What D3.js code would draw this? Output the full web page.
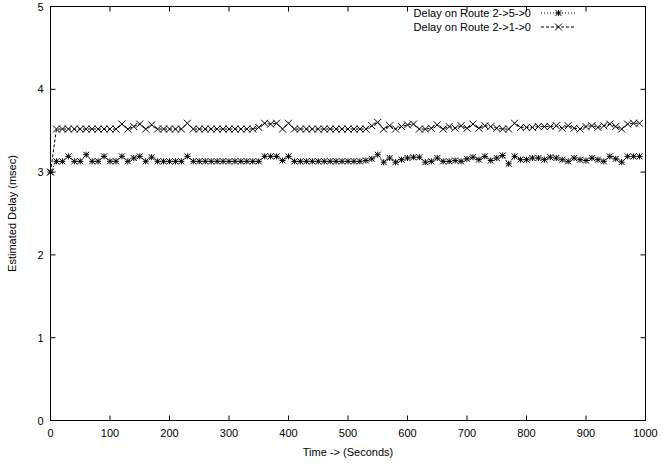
<!DOCTYPE html>
<html><head><meta charset="utf-8">
<script src="https://cdn.jsdelivr.net/npm/d3@7"></script>
<style>body{margin:0;background:#fff}svg{display:block}text{font-family:"Liberation Sans",Arial,sans-serif;font-size:11px;fill:#000}</style>
</head><body><svg id="c" width="663" height="463"></svg>
<script>
const times = d3.range(0, 1000, 10);
const route250 = [3.00,3.13,3.13,3.19,3.13,3.13,3.21,3.13,3.13,3.19,
3.13,3.13,3.19,3.13,3.17,3.19,3.13,3.18,3.13,3.13,
3.13,3.13,3.13,3.19,3.13,3.13,3.13,3.13,3.13,3.13,
3.13,3.13,3.13,3.13,3.13,3.13,3.19,3.19,3.19,3.14,
3.19,3.13,3.13,3.13,3.13,3.13,3.13,3.13,3.13,3.13,
3.13,3.13,3.13,3.14,3.16,3.21,3.12,3.17,3.12,3.15,
3.17,3.18,3.18,3.12,3.13,3.17,3.13,3.13,3.14,3.13,
3.16,3.18,3.15,3.19,3.14,3.17,3.20,3.10,3.19,3.15,
3.15,3.17,3.17,3.15,3.18,3.17,3.15,3.13,3.17,3.15,
3.14,3.17,3.15,3.13,3.19,3.16,3.12,3.19,3.19,3.19];
const route210 = [3.00,3.52,3.52,3.52,3.52,3.52,3.52,3.52,3.52,3.52,
3.52,3.52,3.58,3.52,3.55,3.58,3.52,3.57,3.52,3.52,
3.52,3.52,3.52,3.59,3.52,3.52,3.52,3.52,3.52,3.52,
3.52,3.52,3.52,3.52,3.52,3.54,3.59,3.58,3.59,3.52,
3.59,3.52,3.52,3.52,3.52,3.52,3.52,3.52,3.52,3.52,
3.52,3.52,3.52,3.52,3.56,3.60,3.52,3.56,3.52,3.55,
3.57,3.58,3.52,3.52,3.53,3.57,3.52,3.55,3.53,3.56,
3.53,3.58,3.53,3.56,3.55,3.53,3.52,3.52,3.59,3.54,
3.54,3.54,3.55,3.55,3.55,3.56,3.53,3.56,3.53,3.52,
3.55,3.56,3.54,3.56,3.58,3.55,3.52,3.58,3.59,3.59];
const xTicks = [0,100,200,300,400,500,600,700,800,900,1000];
const yTicks = [0,1,2,3,4,5];
const seriesNames = ["Delay on Route 2->5->0","Delay on Route 2->1->0"];

const svg = d3.select("#c");
const L=50.5, R=645.5, T=6.5, B=420.5;
const x = d3.scaleLinear().domain([0,1000]).range([L,R]);
const y = d3.scaleLinear().domain([0,5]).range([B,T]);

const g = svg.append("g");
xTicks.forEach(t=>{
  g.append("line").attr("x1",x(t)).attr("x2",x(t)).attr("y1",B).attr("y2",B-5).attr("stroke","#000");
  g.append("line").attr("x1",x(t)).attr("x2",x(t)).attr("y1",T).attr("y2",T+5).attr("stroke","#000");
  g.append("text").attr("x",x(t)).attr("y",B+16).attr("text-anchor","middle").text(t);
});
yTicks.forEach(t=>{
  g.append("line").attr("x1",L).attr("x2",L+5).attr("y1",y(t)).attr("y2",y(t)).attr("stroke","#000");
  g.append("line").attr("x1",R).attr("x2",R-5).attr("y1",y(t)).attr("y2",y(t)).attr("stroke","#000");
  g.append("text").attr("x",L-7).attr("y",y(t)+4).attr("text-anchor","end").text(t);
});
g.append("rect").attr("x",L).attr("y",T).attr("width",R-L).attr("height",B-T).attr("fill","none").attr("stroke","#000");

svg.append("text").attr("x",x(500)).attr("y",456).attr("text-anchor","middle").text("Time -> (Seconds)");
svg.append("text").attr("transform","translate(16,"+((T+B)/2)+") rotate(-90)").attr("text-anchor","middle").text("Estimated Delay (msec)");

const line = d3.line().x((d,i)=>x(times[i])).y(d=>y(d));
function star(sel,cx,cy){
  const s=3;
  sel.append("path").attr("d",`M${cx-s},${cy}H${cx+s}M${cx},${cy-s}V${cy+s}M${cx-s},${cy-s}L${cx+s},${cy+s}M${cx-s},${cy+s}L${cx+s},${cy-s}`).attr("stroke","#000").attr("stroke-width",1);
}
function cross(sel,cx,cy){
  const s=3.5;
  sel.append("path").attr("d",`M${cx-s},${cy-s}L${cx+s},${cy+s}M${cx-s},${cy+s}L${cx+s},${cy-s}`).attr("stroke","#000").attr("stroke-width",1);
}
const series = [
  {data:route250, dash:"1,2", mark:star},
  {data:route210, dash:"3,2", mark:cross}
];
series.forEach((s,k)=>{
  svg.append("path").datum(s.data).attr("d",line).attr("fill","none").attr("stroke","#000").attr("stroke-width",1).attr("stroke-dasharray",s.dash);
  const mg = svg.append("g");
  s.data.forEach((d,i)=>s.mark(mg,x(times[i]),y(d)));
  const ly = 13 + k*14;
  svg.append("text").attr("x",531).attr("y",ly+4).attr("text-anchor","end").text(seriesNames[k]);
  svg.append("line").attr("x1",541).attr("x2",576).attr("y1",ly).attr("y2",ly).attr("stroke","#000").attr("stroke-dasharray",s.dash);
  s.mark(mg,558.5,ly);
});
</script></body></html>
